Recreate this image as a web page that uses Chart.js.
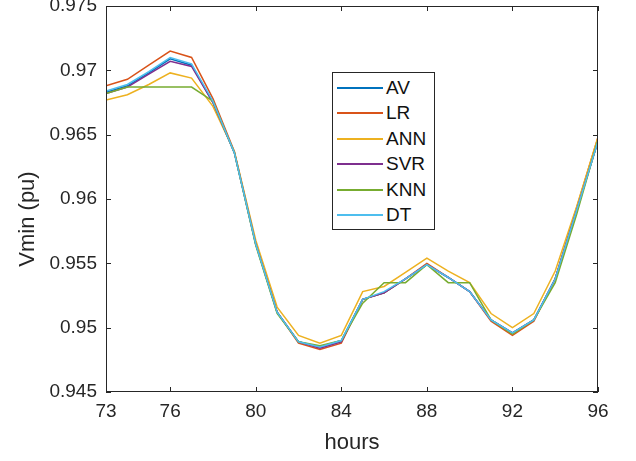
<!DOCTYPE html>
<html>
<head>
<meta charset="utf-8">
<script src="https://cdn.jsdelivr.net/npm/chart.js@4"></script>
<style>
  body { margin: 0; background: #fff; }
  #wrap { position: relative; width: 636px; height: 461px; }
  #legend {
    position: absolute; left: 332px; top: 72px; width: 103px; height: 158px;
    border: 1px solid #262626; background: #fff; box-sizing: border-box;
    font-family: "Liberation Sans", Arial, sans-serif; font-size: 19px; color: #111;
  }
  .row { position: absolute; left: 0; height: 20px; line-height: 20px; white-space: nowrap; }
  .row span.sw { position: absolute; left: 4px; top: 9px; width: 46px; height: 2px; }
  .row span.tx { position: absolute; left: 53px; top: 0; }
</style>
</head>
<body>
<div id="wrap">
  <canvas id="vChart" width="636" height="461"></canvas>
  <div id="legend"></div>
</div>
<script>
const hours = [73, 74, 75, 76, 77, 78, 79, 80, 81, 82, 83, 84, 85, 86, 87, 88, 89, 90, 91, 92, 93, 94, 95, 96];
const xTicks = [73, 76, 80, 84, 88, 92, 96];
const yTicks = [0.945, 0.95, 0.955, 0.96, 0.965, 0.97, 0.975];

const seriesNames = ["AV", "LR", "ANN", "SVR", "KNN", "DT"];
const seriesColors = ["#0072BD", "#D95319", "#EDB120", "#7E2F8E", "#77AC30", "#4DBEEE"];

const av  = [0.9683, 0.9688, 0.9698, 0.9709, 0.9704, 0.9675, 0.9636, 0.9565, 0.9512, 0.9489, 0.9485, 0.9490, 0.9522, 0.9527, 0.9538, 0.9549, 0.9539, 0.9528, 0.9506, 0.9496, 0.9506, 0.9538, 0.9591, 0.9645];
const lr  = [0.9688, 0.9693, 0.9704, 0.9715, 0.9710, 0.9678, 0.9637, 0.9566, 0.9512, 0.9488, 0.9483, 0.9488, 0.9522, 0.9527, 0.9538, 0.9550, 0.9539, 0.9528, 0.9505, 0.9494, 0.9505, 0.9538, 0.9593, 0.9648];
const ann = [0.9677, 0.9681, 0.9689, 0.9698, 0.9694, 0.9672, 0.9637, 0.9568, 0.9516, 0.9494, 0.9488, 0.9494, 0.9528, 0.9532, 0.9543, 0.9554, 0.9544, 0.9535, 0.9511, 0.9500, 0.9511, 0.9544, 0.9594, 0.9648];
const svr = [0.9682, 0.9687, 0.9697, 0.9707, 0.9703, 0.9675, 0.9636, 0.9565, 0.9512, 0.9489, 0.9484, 0.9489, 0.9522, 0.9527, 0.9538, 0.9549, 0.9539, 0.9528, 0.9506, 0.9496, 0.9506, 0.9538, 0.9591, 0.9645];
const knn = [0.9682, 0.9687, 0.9687, 0.9687, 0.9687, 0.9676, 0.9636, 0.9564, 0.9511, 0.9489, 0.9486, 0.9490, 0.9519, 0.9535, 0.9535, 0.9549, 0.9535, 0.9535, 0.9506, 0.9495, 0.9506, 0.9535, 0.9588, 0.9646];
const dt  = [0.9684, 0.9689, 0.9699, 0.9710, 0.9705, 0.9676, 0.9636, 0.9565, 0.9512, 0.9489, 0.9485, 0.9490, 0.9522, 0.9528, 0.9538, 0.9549, 0.9539, 0.9528, 0.9506, 0.9496, 0.9506, 0.9538, 0.9591, 0.9645];

const seriesValues = [av, lr, ann, svr, knn, dt];
const axisColor = '#262626';
const fontFamily = '"Liberation Sans", Arial, sans-serif';
const yTitle = 'Vmin (pu)';

// MATLAB style box with inward ticks on all four sides, plus the y label
const boxPlugin = {
  id: 'boxPlugin',
  afterDraw(chart) {
    const { ctx, chartArea: a, scales } = chart;
    const len = 5;
    ctx.save();
    ctx.strokeStyle = axisColor;
    ctx.lineWidth = 1;
    ctx.strokeRect(a.left + 0.5, a.top + 0.5, a.right - a.left - 1, a.bottom - a.top - 1);
    ctx.beginPath();
    xTicks.forEach(v => {
      const px = Math.round(scales.x.getPixelForValue(v)) + 0.5;
      ctx.moveTo(px, a.bottom); ctx.lineTo(px, a.bottom - len);
      ctx.moveTo(px, a.top); ctx.lineTo(px, a.top + len);
    });
    yTicks.forEach(v => {
      const py = Math.round(scales.y.getPixelForValue(v)) + 0.5;
      ctx.moveTo(a.left, py); ctx.lineTo(a.left + len, py);
      ctx.moveTo(a.right, py); ctx.lineTo(a.right - len, py);
    });
    ctx.stroke();

    // y label sits a bit below the axis middle in the original
    ctx.translate(28, (a.top + a.bottom) / 2 + 20);
    ctx.rotate(-Math.PI / 2);
    ctx.fillStyle = axisColor;
    ctx.font = '22px ' + fontFamily;
    ctx.textAlign = 'center';
    ctx.textBaseline = 'middle';
    ctx.fillText(yTitle, 0, 0);
    ctx.restore();
  }
};

const ctx = document.getElementById('vChart').getContext('2d');
const chart = new Chart(ctx, {
  type: 'line',
  data: {
    datasets: seriesNames.map((name, i) => ({
      label: name,
      data: hours.map((h, j) => ({ x: h, y: seriesValues[i][j] })),
      borderColor: seriesColors[i],
      backgroundColor: seriesColors[i],
      borderWidth: 1.5,
      pointRadius: 0,
      tension: 0,
      fill: false,
      order: seriesNames.length - i
    }))
  },
  options: {
    responsive: false,
    animation: false,
    layout: { padding: { left: 0, right: 38, top: 6, bottom: 0 } },
    plugins: { legend: { display: false }, tooltip: { enabled: false } },
    scales: {
      x: {
        type: 'linear', min: 73, max: 96,
        grid: { display: false, drawTicks: false },
        border: { display: false },
        afterBuildTicks: s => { s.ticks = xTicks.map(v => ({ value: v })); },
        afterFit: s => { s.height = 69; s.paddingLeft = 0; s.paddingRight = 0; },
        ticks: { color: axisColor, padding: 8, font: { family: fontFamily, size: 19 }, maxRotation: 0, callback: v => String(v) },
        title: { display: true, text: 'hours', color: axisColor, padding: { top: 0, bottom: 5 }, font: { family: fontFamily, size: 22 } }
      },
      y: {
        min: 0.945, max: 0.975,
        grid: { display: false, drawTicks: false },
        border: { display: false },
        afterBuildTicks: s => { s.ticks = yTicks.map(v => ({ value: v })); },
        afterFit: s => { s.width = 106; s.paddingTop = 0; s.paddingBottom = 0; },
        ticks: { color: axisColor, padding: 9, font: { family: fontFamily, size: 19 }, callback: v => String(+v.toFixed(3)) }
      }
    }
  },
  plugins: [boxPlugin]
});

// legend box inside the axes, like the MATLAB one
const legend = document.getElementById('legend');
seriesNames.forEach((name, i) => {
  const row = document.createElement('div');
  row.className = 'row';
  row.style.top = (4.7 + i * 25.5) + 'px';
  row.innerHTML = '<span class="sw" style="background:' + seriesColors[i] + '"></span><span class="tx">' + name + '</span>';
  legend.appendChild(row);
});
</script>
</body>
</html>
